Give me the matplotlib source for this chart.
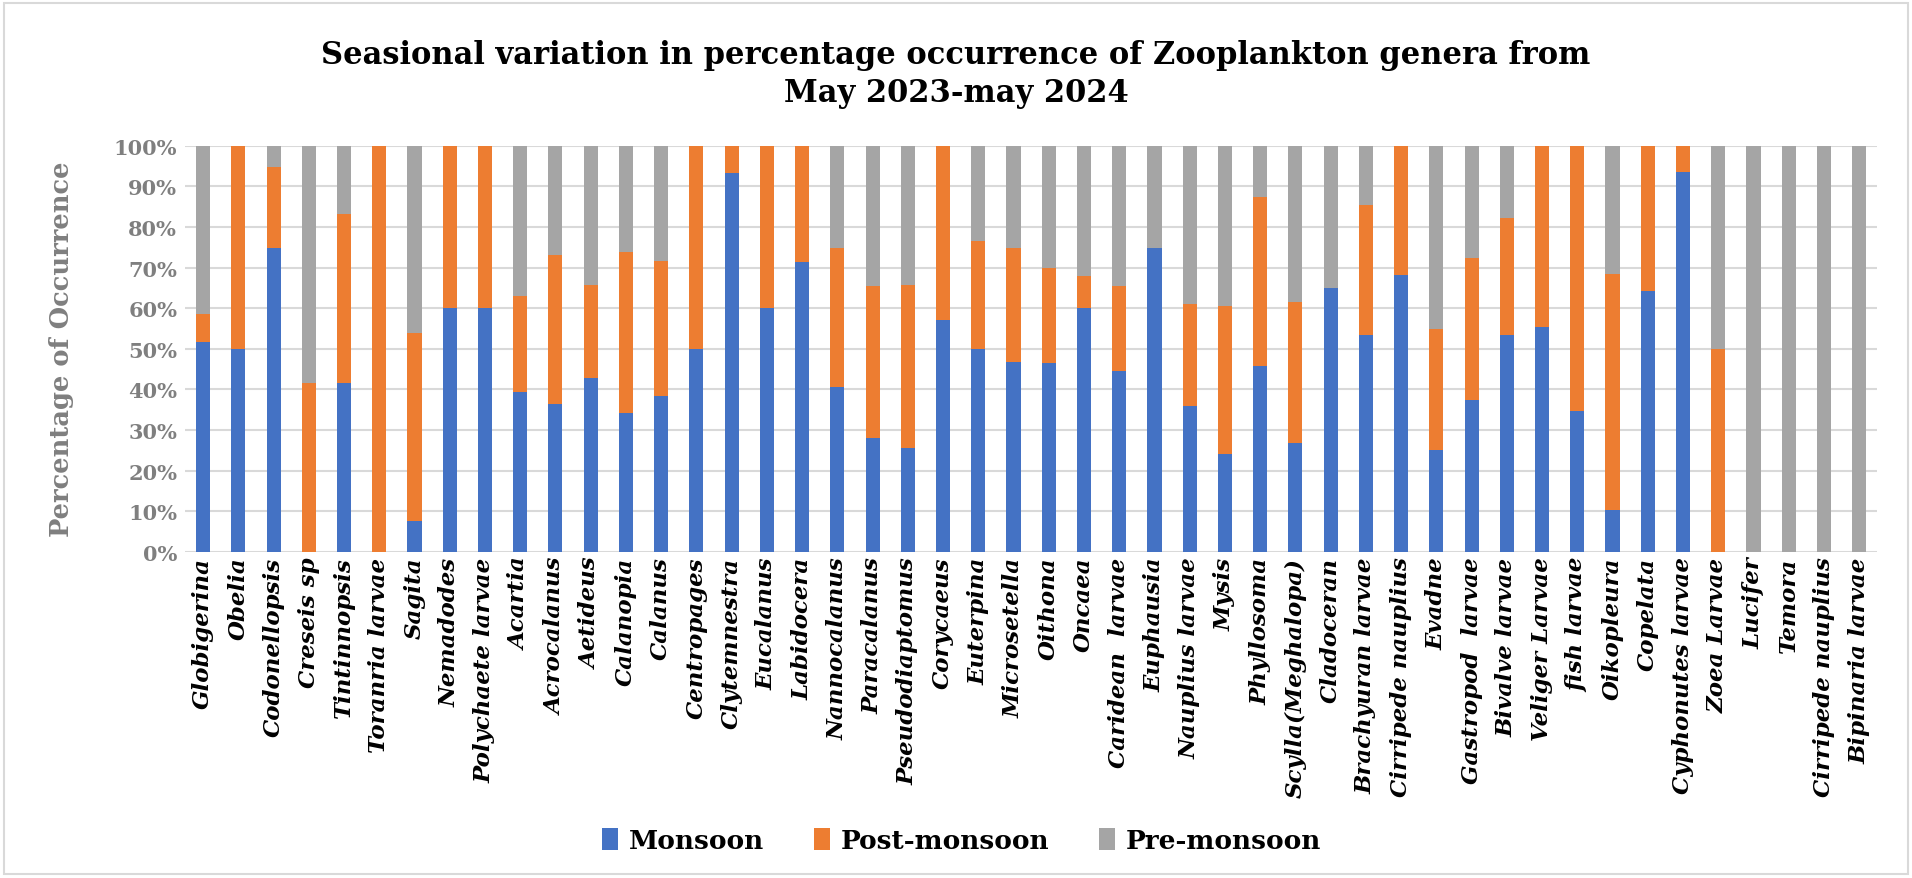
import matplotlib.pyplot as plt
import numpy as np
from matplotlib.patches import Rectangle
from matplotlib.ticker import PercentFormatter

genera = ['Globigerina', 'Obelia', 'Codonellopsis', 'Creseis sp', 'Tintinnopsis',
          'Toranria larvae', 'Sagita', 'Nemadodes', 'Polychaete larvae', 'Acartia',
          'Acrocalanus', 'Aetideus', 'Calanopia', 'Calanus', 'Centropages',
          'Clytemnestra', 'Eucalanus', 'Labidocera', 'Nannocalanus', 'Paracalanus',
          'Pseudodiaptomus', 'Corycaeus', 'Euterpina', 'Microsetella', 'Oithona',
          'Oncaea', 'Caridean  larvae', 'Euphausia', 'Nauplius larvae', 'Mysis',
          'Phyllosoma', 'Scylla(Meghalopa)', 'Cladoceran', 'Brachyuran larvae',
          'Cirripede nauplius', 'Evadne', 'Gastropod  larvae', 'Bivalve larvae',
          'Veliger Larvae', 'fish larvae', 'Oikopleura', 'Copelata',
          'Cyphonutes larvae', 'Zoea Larvae', 'Lucifer', 'Temora',
          'Cirripede nauplius', 'Bipinaria larvae']

# percent values
monsoon = [51.6, 50.0, 74.7, 0.0, 41.5, 0.0, 7.6, 60.0, 60.0, 39.4,
           36.5, 42.7, 34.2, 38.4, 50.0, 93.3, 60.0, 71.3, 40.5, 27.9,
           25.6, 57.1, 50.0, 46.7, 46.6, 60.0, 44.6, 74.9, 36.0, 24.1,
           45.7, 26.8, 64.9, 53.4, 68.1, 25.0, 37.4, 53.4, 55.4, 34.7,
           10.3, 64.1, 93.6, 0.0, 0.0, 0.0, 0.0, 0.0]
post_monsoon = [6.9, 50.0, 20.0, 41.5, 41.7, 100.0, 46.2, 40.0, 40.0, 23.7,
                36.6, 23.0, 39.5, 33.3, 50.0, 6.7, 40.0, 28.7, 34.4, 37.6,
                40.1, 42.9, 26.6, 28.2, 23.3, 7.9, 20.8, 0.0, 25.0, 36.4,
                41.7, 34.6, 0.0, 32.1, 31.9, 29.9, 35.0, 28.7, 44.6, 65.3,
                58.0, 35.9, 6.4, 50.0, 0.0, 0.0, 0.0, 0.0]
pre_monsoon = [41.5, 0.0, 5.3, 58.5, 16.8, 0.0, 46.2, 0.0, 0.0, 36.9,
               26.9, 34.3, 26.3, 28.3, 0.0, 0.0, 0.0, 0.0, 25.1, 34.5,
               34.3, 0.0, 23.4, 25.1, 30.1, 32.1, 34.6, 25.1, 39.0, 39.5,
               12.6, 38.6, 35.1, 14.5, 0.0, 45.1, 27.6, 17.9, 0.0, 0.0,
               31.7, 0.0, 0.0, 50.0, 100.0, 100.0, 100.0, 100.0]

serif = 'DejaVu Serif'
x = np.arange(len(genera))
m = np.array(monsoon)
p = np.array(post_monsoon)
r = np.array(pre_monsoon)

fig = plt.figure(figsize=(19.12, 8.79), dpi=100)
ax = fig.add_axes([0.097, 0.3712, 0.8846, 0.4619])

w = 0.4
ax.bar(x, m, w, color='#4472C4', label='Monsoon', zorder=3)
ax.bar(x, p, w, bottom=m, color='#ED7D31', label='Post-monsoon', zorder=3)
ax.bar(x, r, w, bottom=m + p, color='#A5A5A5', label='Pre-monsoon', zorder=3)

ax.set_xlim(-0.5, len(genera) - 0.5)
ax.set_ylim(0, 100)
ax.set_yticks(np.arange(0, 101, 10))
ax.yaxis.set_major_formatter(PercentFormatter(decimals=0))
ax.grid(axis='y', color='#d9d9d9', linewidth=1.5, zorder=0)
for s in ax.spines.values():
    s.set_visible(False)
ax.tick_params(length=0)
ax.tick_params(axis='y', pad=6)

ax.set_xticks(x)
ax.set_xticklabels(genera, rotation=90, ha='center', va='top',
                   fontsize=16.5, fontweight='bold', fontstyle='italic',
                   family=serif)
for t in ax.get_yticklabels():
    t.set_fontsize(15)
    t.set_fontweight('bold')
    t.set_color('#7f7f7f')
    t.set_family(serif)

ax.set_ylabel('Percentage of Occurrence', fontsize=18.5, fontweight='bold',
              color='#7f7f7f', family=serif)
ax.yaxis.set_label_coords(-0.066, 0.5)

fig.suptitle('Seasional variation in percentage occurrence of Zooplankton genera from\nMay 2023-may 2024',
             y=0.955, fontsize=22, fontweight='bold', family=serif,
             linespacing=1.3)

fig.legend(loc='center', bbox_to_anchor=(0.503, 0.043), ncol=3, frameon=False,
           prop={'family': serif, 'size': 19, 'weight': 'bold'},
           handlelength=0.6, handleheight=0.9, handletextpad=0.4,
           columnspacing=1.9)

fig.add_artist(Rectangle((0.002, 0.004), 0.996, 0.992, transform=fig.transFigure,
                         fill=False, edgecolor='#d9d9d9', linewidth=1.5))

fig.savefig('out.png', dpi=100)
